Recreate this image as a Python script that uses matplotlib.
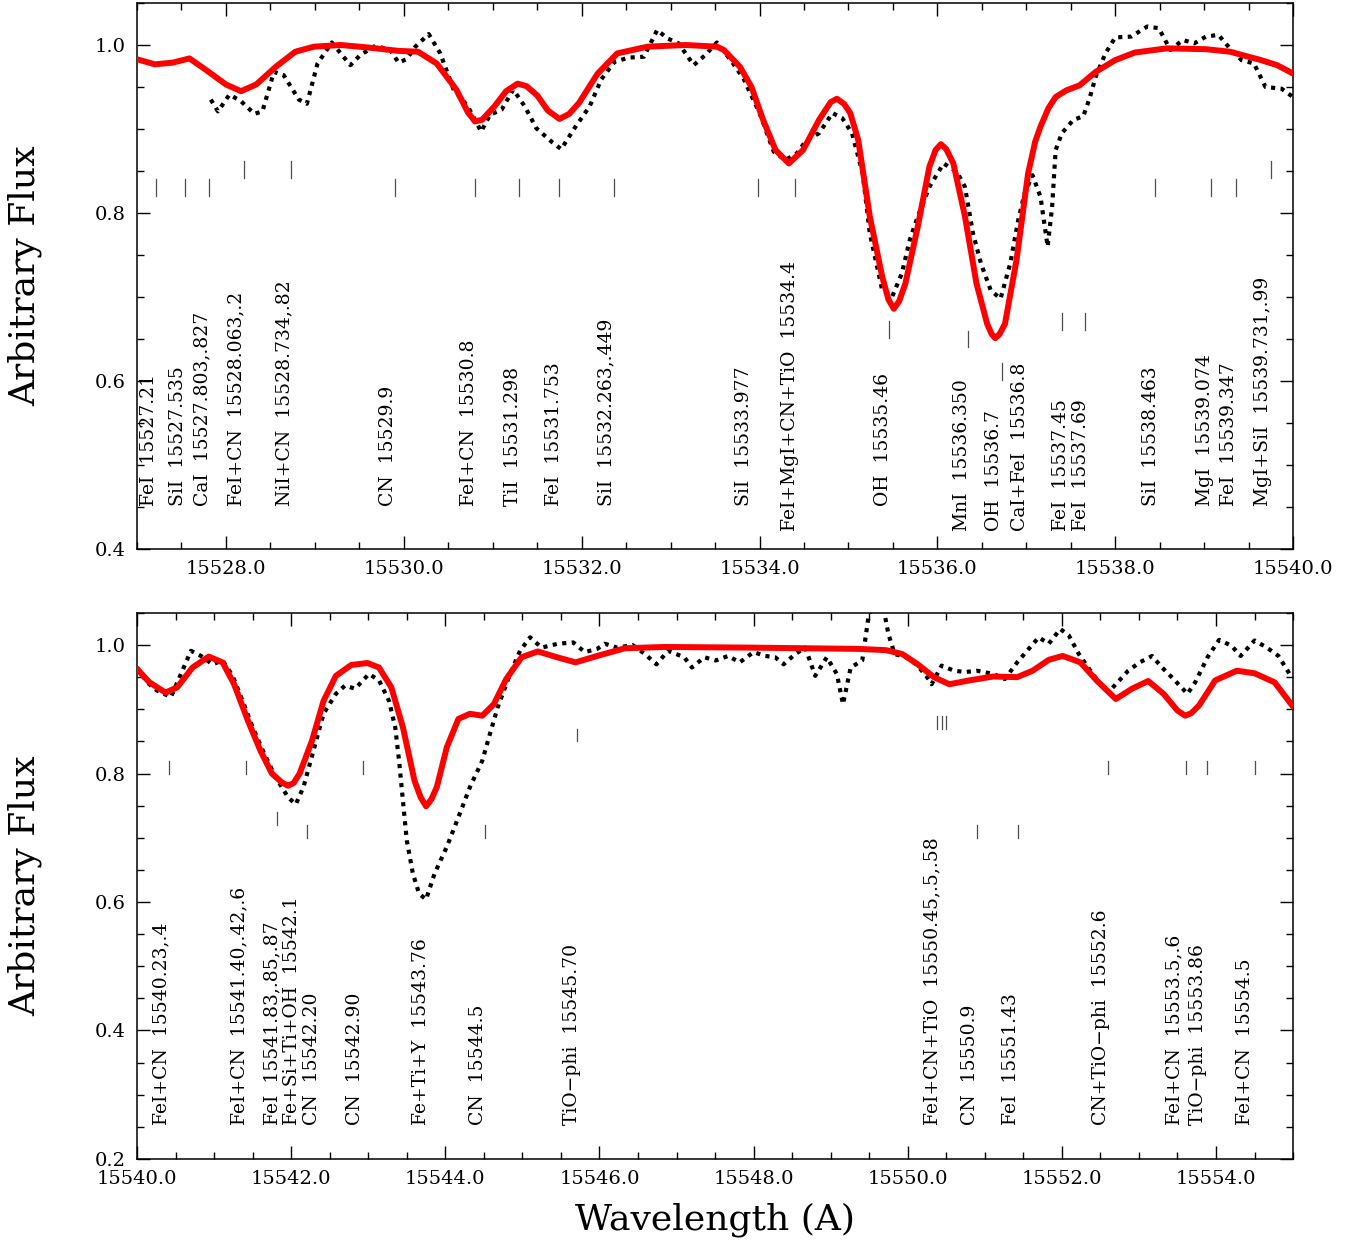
import matplotlib
matplotlib.use('Agg')
import matplotlib.pyplot as plt
from matplotlib.ticker import MultipleLocator, FormatStrFormatter

# ---- top panel (15527 - 15540 A) ----
syn1_lam = [15527.00, 15527.20, 15527.40, 15527.59, 15527.78, 15528.00, 15528.17, 15528.34,
            15528.56, 15528.78, 15528.99, 15529.29, 15529.60, 15529.94, 15530.16, 15530.37,
            15530.59, 15530.72, 15530.80, 15530.88, 15531.02, 15531.15, 15531.28, 15531.38,
            15531.50, 15531.62, 15531.75, 15531.86, 15531.97, 15532.18, 15532.40, 15532.74,
            15533.17, 15533.52, 15533.60, 15533.78, 15533.91, 15534.04, 15534.18, 15534.33,
            15534.49, 15534.67, 15534.80, 15534.87, 15534.95, 15535.02, 15535.11, 15535.24,
            15535.38, 15535.45, 15535.51, 15535.57, 15535.64, 15535.78, 15535.91, 15535.98,
            15536.04, 15536.10, 15536.18, 15536.31, 15536.44, 15536.56, 15536.61, 15536.65,
            15536.70, 15536.76, 15536.89, 15537.02, 15537.10, 15537.16, 15537.25, 15537.33,
            15537.45, 15537.60, 15537.78, 15538.00, 15538.22, 15538.58, 15539.02, 15539.29,
            15539.64, 15539.82, 15540.00]
syn1_flux = [0.983, 0.977, 0.979, 0.984, 0.970, 0.953, 0.945, 0.953,
             0.974, 0.992, 0.998, 1.000, 0.997, 0.993, 0.992, 0.978,
             0.947, 0.920, 0.909, 0.911, 0.927, 0.945, 0.954, 0.951,
             0.940, 0.922, 0.912, 0.918, 0.931, 0.966, 0.990, 0.998,
             1.000, 0.998, 0.994, 0.974, 0.950, 0.911, 0.875, 0.859,
             0.875, 0.911, 0.932, 0.936, 0.930, 0.919, 0.887, 0.796,
             0.724, 0.697, 0.686, 0.695, 0.716, 0.784, 0.855, 0.875,
             0.882, 0.876, 0.859, 0.796, 0.716, 0.668, 0.656, 0.651,
             0.656, 0.668, 0.744, 0.847, 0.885, 0.903, 0.925, 0.938,
             0.946, 0.952, 0.968, 0.982, 0.991, 0.996, 0.995, 0.992,
             0.982, 0.976, 0.966]

obs1_lam = [15527.83, 15527.91, 15528.04, 15528.17, 15528.32, 15528.41, 15528.54, 15528.65,
            15528.82, 15528.91, 15529.03, 15529.19, 15529.29, 15529.40, 15529.51, 15529.68,
            15529.85, 15529.94, 15530.03, 15530.13, 15530.28, 15530.41, 15530.56, 15530.72,
            15530.87, 15530.97, 15531.10, 15531.23, 15531.36, 15531.49, 15531.66, 15531.77,
            15531.92, 15532.09, 15532.22, 15532.37, 15532.53, 15532.70, 15532.85, 15532.96,
            15533.09, 15533.26, 15533.39, 15533.52, 15533.69, 15533.82, 15534.00, 15534.16,
            15534.29, 15534.42, 15534.53, 15534.67, 15534.82, 15534.93, 15535.04, 15535.16,
            15535.24, 15535.38, 15535.49, 15535.60, 15535.69, 15535.78, 15535.91, 15536.07,
            15536.22, 15536.31, 15536.40, 15536.49, 15536.60, 15536.71, 15536.82, 15536.91,
            15536.98, 15537.07, 15537.16, 15537.24, 15537.29, 15537.33, 15537.40, 15537.53,
            15537.64, 15537.71, 15537.78, 15537.89, 15538.00, 15538.18, 15538.36, 15538.49,
            15538.62, 15538.76, 15538.89, 15539.02, 15539.16, 15539.29, 15539.42, 15539.56,
            15539.69, 15539.87, 15540.00]
obs1_flux = [0.935, 0.921, 0.941, 0.933, 0.918, 0.921, 0.968, 0.964,
             0.935, 0.930, 0.978, 1.003, 0.990, 0.976, 0.988, 0.999,
             0.994, 0.979, 0.983, 0.998, 1.013, 0.990, 0.947, 0.927,
             0.897, 0.917, 0.923, 0.947, 0.927, 0.901, 0.885, 0.876,
             0.901, 0.927, 0.959, 0.980, 0.985, 0.986, 1.018, 1.008,
             1.002, 0.976, 0.988, 1.003, 0.980, 0.960, 0.919, 0.873,
             0.863, 0.871, 0.887, 0.895, 0.919, 0.913, 0.895, 0.847,
             0.776, 0.708, 0.700, 0.728, 0.768, 0.796, 0.831, 0.859,
             0.849, 0.831, 0.776, 0.740, 0.708, 0.698, 0.740, 0.792,
             0.823, 0.845, 0.819, 0.760, 0.807, 0.875, 0.895, 0.911,
             0.915, 0.936, 0.962, 0.990, 1.009, 1.010, 1.022, 1.020,
             0.994, 1.006, 1.002, 1.010, 1.012, 0.996, 0.982, 0.978,
             0.950, 0.948, 0.938]

tick1_lam = [15527.21, 15527.54, 15527.81, 15528.20, 15528.73, 15529.90, 15530.80, 15531.29,
             15531.75, 15532.36, 15533.98, 15534.40, 15535.46, 15536.35, 15536.73, 15537.40,
             15537.66, 15538.45, 15539.08, 15539.36, 15539.75]
tick1_bot = [0.820, 0.820, 0.820, 0.842, 0.842, 0.820, 0.820, 0.820,
             0.820, 0.820, 0.820, 0.820, 0.651, 0.640, 0.601, 0.661,
             0.661, 0.820, 0.820, 0.820, 0.842]

lab1_text = ['FeI  15527.21', 'SiI  15527.535', 'CaI  15527.803,.827', 'FeI+CN  15528.063,.2',
             'NiI+CN  15528.734,.82', 'CN  15529.9', 'FeI+CN  15530.8', 'TiI  15531.298',
             'FeI  15531.753', 'SiI  15532.263,.449', 'SiI  15533.977', 'FeI+MgI+CN+TiO  15534.4',
             'OH  15535.46', 'MnI  15536.350', 'OH  15536.7', 'CaI+FeI  15536.8',
             'FeI  15537.45', 'FeI  15537.69', 'SiI  15538.463', 'MgI  15539.074',
             'FeI  15539.347', 'MgI+SiI  15539.731,.99']
lab1_lam = [15527.135, 15527.46, 15527.73, 15528.12, 15528.66, 15529.82, 15530.73, 15531.23,
            15531.69, 15532.28, 15533.83, 15534.34, 15535.39, 15536.28, 15536.64, 15536.93,
            15537.39, 15537.62, 15538.40, 15539.01, 15539.28, 15539.66]
lab1_base = [0.451, 0.451, 0.451, 0.451, 0.451, 0.451, 0.451, 0.451, 0.451, 0.451, 0.451,
             0.421, 0.451, 0.421, 0.421, 0.421, 0.421, 0.421, 0.451, 0.451, 0.451, 0.451]

# ---- bottom panel (15540 - 15555 A) ----
syn2_lam = [15540.00, 15540.16, 15540.37, 15540.52, 15540.72, 15540.93, 15541.11, 15541.26,
            15541.44, 15541.60, 15541.75, 15541.88, 15541.96, 15542.03, 15542.11, 15542.27,
            15542.42, 15542.58, 15542.78, 15542.99, 15543.14, 15543.30, 15543.45, 15543.60,
            15543.68, 15543.75, 15543.82, 15543.89, 15544.02, 15544.17, 15544.32, 15544.48,
            15544.63, 15544.79, 15544.99, 15545.20, 15545.45, 15545.69, 15545.97, 15546.33,
            15546.84, 15547.96, 15549.36, 15549.72, 15549.93, 15550.13, 15550.34, 15550.54,
            15550.80, 15551.11, 15551.42, 15551.62, 15551.83, 15552.01, 15552.24, 15552.45,
            15552.70, 15552.91, 15553.12, 15553.32, 15553.50, 15553.60, 15553.68, 15553.78,
            15553.99, 15554.27, 15554.50, 15554.76, 15555.00]
syn2_flux = [0.963, 0.942, 0.926, 0.934, 0.965, 0.982, 0.973, 0.939,
             0.882, 0.836, 0.800, 0.786, 0.781, 0.785, 0.800, 0.851,
             0.913, 0.952, 0.969, 0.972, 0.965, 0.934, 0.872, 0.789,
             0.763, 0.749, 0.760, 0.779, 0.841, 0.885, 0.893, 0.890,
             0.908, 0.947, 0.981, 0.990, 0.981, 0.973, 0.983, 0.995,
             0.997, 0.996, 0.994, 0.992, 0.986, 0.970, 0.950, 0.939,
             0.945, 0.951, 0.950, 0.960, 0.977, 0.983, 0.973, 0.945,
             0.916, 0.932, 0.944, 0.924, 0.898, 0.890, 0.894, 0.906,
             0.945, 0.960, 0.956, 0.942, 0.904]

obs2_lam = [15540.00, 15540.13, 15540.26, 15540.44, 15540.57, 15540.70, 15540.83, 15540.98,
            15541.11, 15541.24, 15541.37, 15541.50, 15541.65, 15541.80, 15541.96, 15542.06,
            15542.16, 15542.29, 15542.42, 15542.58, 15542.70, 15542.83, 15543.01, 15543.14,
            15543.27, 15543.35, 15543.40, 15543.45, 15543.50, 15543.58, 15543.66, 15543.75,
            15543.86, 15544.02, 15544.17, 15544.32, 15544.48, 15544.58, 15544.68, 15544.84,
            15544.97, 15545.10, 15545.25, 15545.46, 15545.66, 15545.81, 15545.97, 15546.07,
            15546.23, 15546.43, 15546.59, 15546.74, 15546.89, 15547.10, 15547.20, 15547.36,
            15547.51, 15547.67, 15547.82, 15548.00, 15548.15, 15548.28, 15548.39, 15548.54,
            15548.67, 15548.80, 15548.95, 15549.08, 15549.16, 15549.26, 15549.41, 15549.49,
            15549.56, 15549.63, 15549.70, 15549.75, 15549.83, 15549.98, 15550.11, 15550.24,
            15550.31, 15550.44, 15550.60, 15550.75, 15550.90, 15551.11, 15551.26, 15551.42,
            15551.57, 15551.70, 15551.83, 15551.98, 15552.09, 15552.22, 15552.37, 15552.50,
            15552.60, 15552.70, 15552.86, 15553.01, 15553.17, 15553.30, 15553.45, 15553.63,
            15553.73, 15553.89, 15554.04, 15554.20, 15554.32, 15554.50, 15554.66, 15554.81,
            15554.97]
obs2_flux = [0.965, 0.942, 0.929, 0.919, 0.955, 0.991, 0.983, 0.970,
             0.976, 0.952, 0.913, 0.872, 0.831, 0.794, 0.763, 0.752,
             0.779, 0.836, 0.893, 0.924, 0.937, 0.932, 0.955, 0.945,
             0.913, 0.872, 0.820, 0.758, 0.696, 0.644, 0.613, 0.604,
             0.644, 0.686, 0.732, 0.779, 0.820, 0.862, 0.903, 0.955,
             0.991, 1.012, 0.996, 1.002, 1.004, 0.989, 0.994, 1.002,
             0.996, 1.000, 0.986, 0.970, 0.991, 0.981, 0.965, 0.981,
             0.976, 0.983, 0.973, 0.989, 0.983, 0.981, 0.970, 0.986,
             0.996, 0.952, 0.981, 0.955, 0.908, 0.965, 0.976, 1.043,
             1.070, 1.070, 1.048, 1.017, 0.986, 0.981, 0.970, 0.952,
             0.939, 0.968, 0.960, 0.958, 0.960, 0.955, 0.947, 0.973,
             0.994, 1.012, 1.002, 1.025, 1.015, 0.986, 0.960, 0.939,
             0.926, 0.939, 0.960, 0.973, 0.983, 0.965, 0.947, 0.924,
             0.942, 0.981, 1.008, 0.999, 0.983, 1.007, 0.996, 0.983,
             0.952]

tick2_lam = [15540.41, 15541.42, 15541.81, 15542.21, 15542.93, 15544.51, 15545.71, 15550.38,
             15550.44, 15550.50, 15550.90, 15551.43, 15552.60, 15553.61, 15553.88, 15554.51]
tick2_bot = [0.800, 0.800, 0.720, 0.700, 0.800, 0.700, 0.850, 0.870,
             0.870, 0.870, 0.700, 0.700, 0.800, 0.800, 0.800, 0.800]

lab2_text = ['FeI+CN  15540.23,.4', 'FeI+CN  15541.40,.42,.6', 'FeI  15541.83,.85,.87',
             'Fe+Si+Ti+OH  15542.1', 'CN  15542.20', 'CN  15542.90', 'Fe+Ti+Y  15543.76',
             'CN  15544.5', 'TiO\u2212phi  15545.70', 'FeI+CN+TiO  15550.45,.5,.58', 'CN  15550.9',
             'FeI  15551.43', 'CN+TiO\u2212phi  15552.6', 'FeI+CN  15553.5,.6', 'TiO\u2212phi  15553.86',
             'FeI+CN  15554.5']
lab2_lam = [15540.32, 15541.33, 15541.76, 15542.01, 15542.27, 15542.83, 15543.68, 15544.43,
            15545.64, 15550.32, 15550.81, 15551.34, 15552.51, 15553.46, 15553.77, 15554.38]
lab2_base = [0.253] * len(lab2_text)

plt.rcParams['font.family'] = 'DejaVu Serif'
plt.rcParams['xtick.direction'] = 'in'
plt.rcParams['ytick.direction'] = 'in'
plt.rcParams['xtick.top'] = True
plt.rcParams['ytick.right'] = True

fig = plt.figure(figsize=(13.62, 12.45), dpi=100)
ax1 = fig.add_axes([0.1006, 0.559, 0.8488, 0.4386])
ax2 = fig.add_axes([0.1006, 0.0691, 0.8488, 0.4386])

panels = [
    (ax1, syn1_lam, syn1_flux, obs1_lam, obs1_flux, tick1_lam, tick1_bot,
     lab1_text, lab1_lam, lab1_base, (15527, 15540), (0.4, 1.05)),
    (ax2, syn2_lam, syn2_flux, obs2_lam, obs2_flux, tick2_lam, tick2_bot,
     lab2_text, lab2_lam, lab2_base, (15540, 15555), (0.2, 1.05)),
]

for ax, sl, sf, ol, of, tl, tb, lt, ll, lb, xl, yl in panels:
    ax.plot(ol, of, color='black', lw=3.0, linestyle=(0, (1, 1.3)), zorder=2)
    ax.plot(sl, sf, color='#ff0000', lw=4.3, solid_capstyle='round',
            solid_joinstyle='round', zorder=3)
    for lam, bot in zip(tl, tb):
        ax.plot([lam, lam], [bot, bot + 0.02], color='0.3', lw=0.9, zorder=1)
    for s, x, y in zip(lt, ll, lb):
        ax.text(x, y, s, rotation=90, ha='center', va='bottom', fontsize=13.5,
                color='black')
    ax.set_xlim(*xl)
    ax.set_ylim(*yl)
    ax.xaxis.set_major_locator(MultipleLocator(2))
    ax.xaxis.set_minor_locator(MultipleLocator(0.5))
    ax.yaxis.set_major_locator(MultipleLocator(0.2))
    ax.yaxis.set_minor_locator(MultipleLocator(0.05))
    ax.xaxis.set_major_formatter(FormatStrFormatter('%.1f'))
    ax.yaxis.set_major_formatter(FormatStrFormatter('%.1f'))
    ax.tick_params(which='major', length=9.5, width=1.0, labelsize=14, pad=8)
    ax.tick_params(which='minor', length=5, width=1.0)
    for sp in ax.spines.values():
        sp.set_linewidth(1.1)

# axis labels placed by hand to sit where the reference has them
fig.text(25 / 1362, 1 - 276 / 1245, 'Arbitrary Flux', fontsize=26,
         rotation=90, ha='center', va='center')
fig.text(25 / 1362, 1 - 886 / 1245, 'Arbitrary Flux', fontsize=26,
         rotation=90, ha='center', va='center')
fig.text(715 / 1362, 1 - 1220 / 1245, 'Wavelength (A)', fontsize=26,
         ha='center', va='center')

fig.savefig('out.png', dpi=100)
